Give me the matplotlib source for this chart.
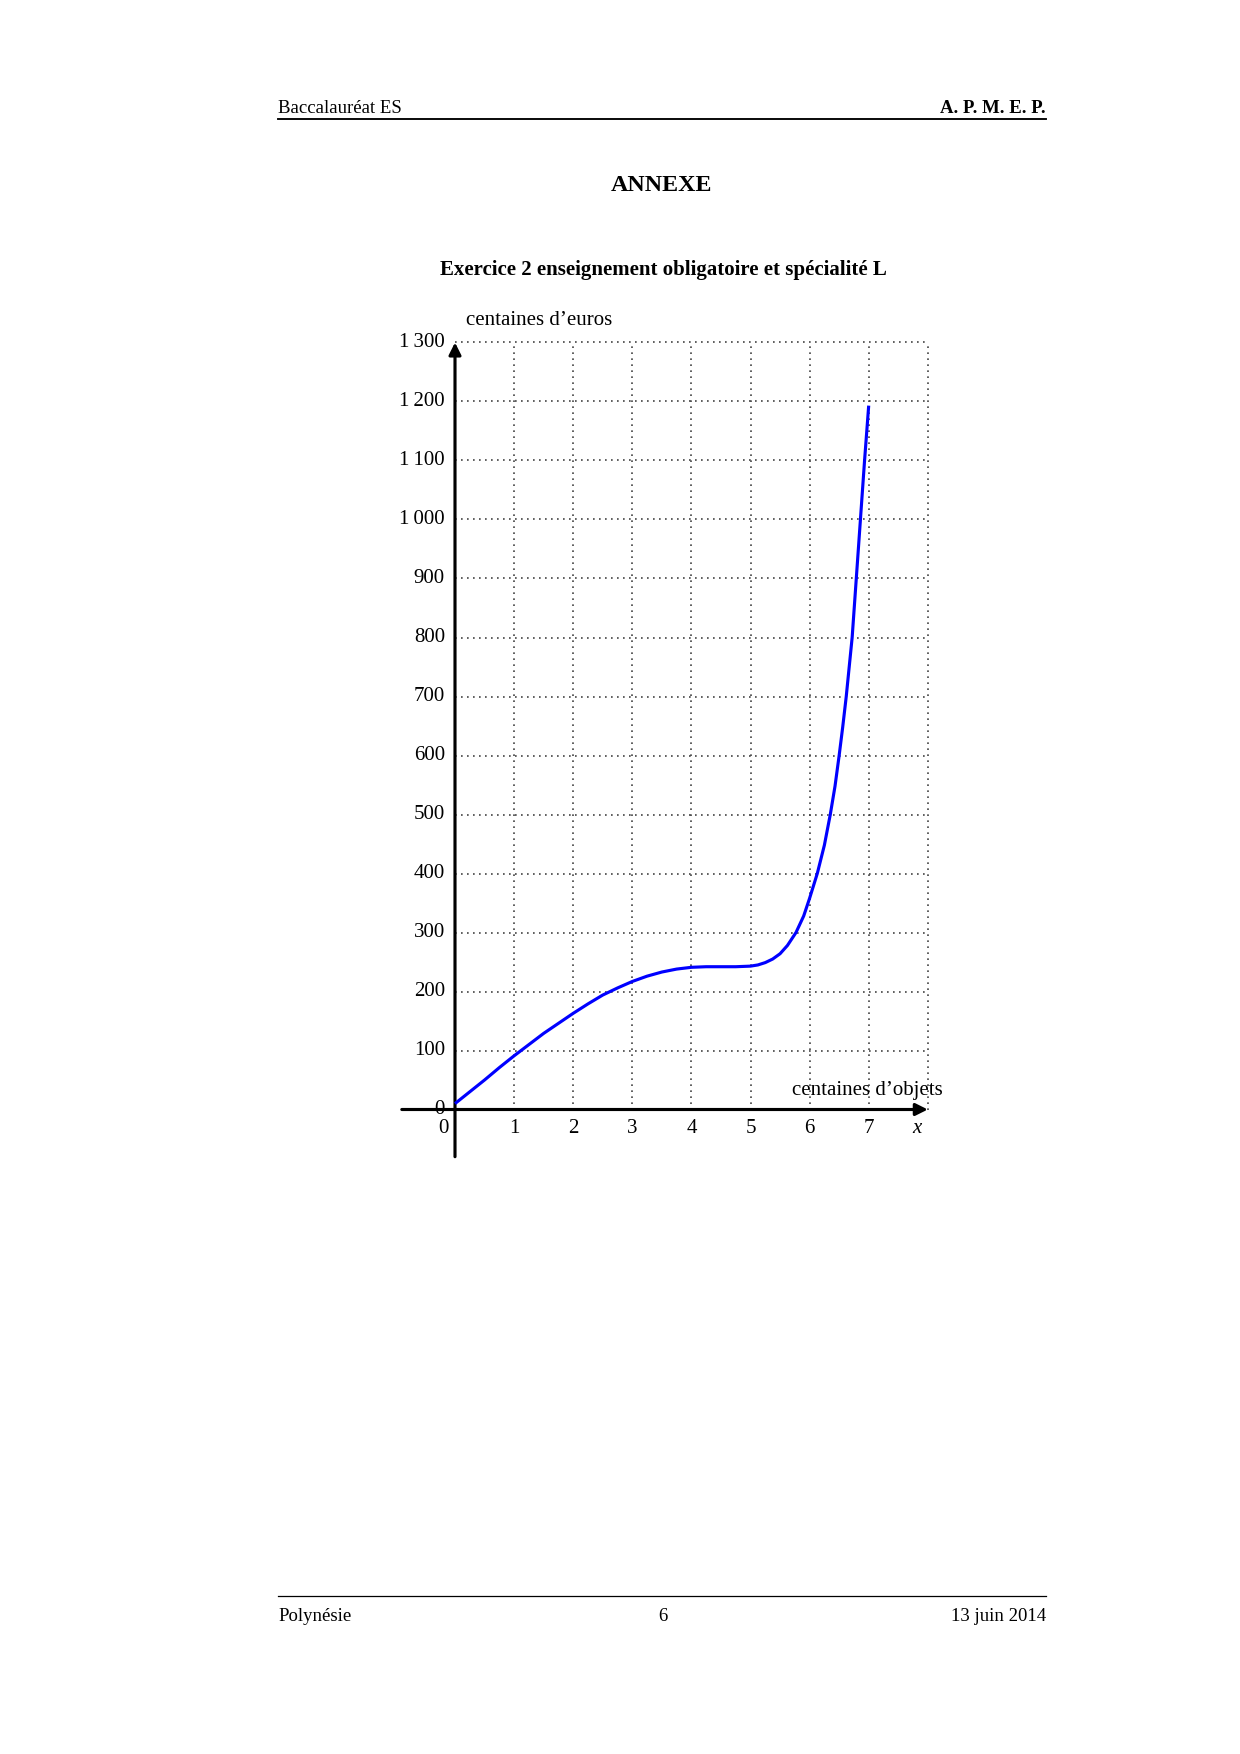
import matplotlib
matplotlib.use('Agg')
import matplotlib.pyplot as plt
from matplotlib.lines import Line2D

plt.rcParams['font.family'] = ['Liberation Serif', 'DejaVu Serif']

# valeurs (centaines d'objets -> centaines d'euros)
x_vals = [0, 0.25, 0.5, 0.75, 1, 1.25, 1.5, 1.75, 2, 2.25, 2.5, 2.75, 3, 3.25,
          3.5, 3.75, 4, 4.25, 4.5, 4.75, 5, 5.125, 5.25, 5.375, 5.5, 5.625,
          5.77, 5.9, 6, 6.13, 6.25, 6.35, 6.43, 6.5, 6.56, 6.62, 6.67, 6.72,
          6.79, 6.86, 6.93, 7]
y_vals = [10, 30, 50, 71, 91, 110, 129, 146, 163, 179, 194, 206, 217, 226,
          233, 238, 241, 242, 242, 242, 243, 245, 249, 255, 264, 278,
          300, 328, 358, 400, 448, 500, 548, 600, 648, 700, 750, 800,
          900, 1000, 1100, 1193]

x_ticks = [1, 2, 3, 4, 5, 6, 7]
y_ticks = [0, 100, 200, 300, 400, 500, 600, 700, 800, 900, 1000, 1100, 1200, 1300]
x_grid = [1, 2, 3, 4, 5, 6, 7, 8]


def fmt(v):
    s = str(v)
    if v >= 1000:
        s = s[:-3] + '\u2009' + s[-3:]
    return s


W, H = 1240, 1754
fig = plt.figure(figsize=(W / 150, H / 150), dpi=150)


def fx(px):
    return px / W


def fy(py):
    return 1 - py / H


# en-tete et pied de page
fig.text(fx(278), fy(113), 'Baccalauréat ES', fontsize=9, va='baseline', ha='left')
fig.text(fx(1046), fy(113), 'A. P. M. E. P.', fontsize=9, fontweight='bold', va='baseline', ha='right')
fig.add_artist(Line2D([fx(278), fx(1046)], [fy(118.5), fy(118.5)], color='black', lw=0.9))
fig.text(fx(662), fy(191), 'ANNEXE', fontsize=11.5, fontweight='bold', va='baseline', ha='center')
fig.text(fx(663), fy(275), 'Exercice 2 enseignement obligatoire et spécialité L',
         fontsize=10, fontweight='bold', va='baseline', ha='center')
fig.add_artist(Line2D([fx(278), fx(1046)], [fy(1595.5), fy(1595.5)], color='black', lw=0.6))
fig.text(fx(278), fy(1621), 'Polynésie', fontsize=9, va='baseline', ha='left')
fig.text(fx(663), fy(1621), '6', fontsize=9, va='baseline', ha='center')
fig.text(fx(1046), fy(1621), '13 juin 2014', fontsize=9, va='baseline', ha='right')

# repere : 1 unite en x = 59.1 px, 100 en y = 59 px, origine (455, 1109.5)
x0, y0 = 455, 1109.5
sx, sy = 59.1, 0.59
xmin, xmax = -1.2, 8.6
ymin, ymax = -120, 1400
left = x0 + xmin * sx
right = x0 + xmax * sx
top = y0 - ymax * sy
bottom = y0 - ymin * sy
ax = fig.add_axes([left / W, 1 - bottom / H, (right - left) / W, (bottom - top) / H])
ax.set_xlim(xmin, xmax)
ax.set_ylim(ymin, ymax)
ax.axis('off')

grid_style = dict(color='#444444', lw=0.8, linestyle=(0, (1, 2.6)))
for gx in x_grid:
    ax.plot([gx, gx], [0, 1300], **grid_style)
for gy in y_ticks[1:]:
    ax.plot([0, 8], [gy, gy], **grid_style)

# axes avec fleches
ax.annotate('', xy=(8, 0), xytext=(-0.9, 0),
            arrowprops=dict(arrowstyle='-|>', lw=1.5, color='black', mutation_scale=12,
                            shrinkA=0, shrinkB=0))
ax.annotate('', xy=(0, 1300), xytext=(0, -80),
            arrowprops=dict(arrowstyle='-|>', lw=1.5, color='black', mutation_scale=12,
                            shrinkA=0, shrinkB=0))

ax.plot(x_vals, y_vals, color='#0000ff', lw=1.5, solid_joinstyle='round',
        solid_capstyle='butt', zorder=5)

for v in y_ticks:
    ax.text(-0.17, v, fmt(v), fontsize=10, ha='right', va='center')
ax.text(-0.2, -32, '0', fontsize=10, ha='center', va='center')
for v in x_ticks:
    ax.text(v, -32, str(v), fontsize=10, ha='center', va='center')
ax.text(7.82, -32, 'x', fontsize=10, style='italic', ha='center', va='center')

ax.text(0.19, 1330, 'centaines d\u2019euros', fontsize=10, ha='left', va='baseline')
ax.text(5.70, 25, 'centaines d\u2019objets', fontsize=10, ha='left', va='baseline')

fig.savefig('out.png', dpi=150)
